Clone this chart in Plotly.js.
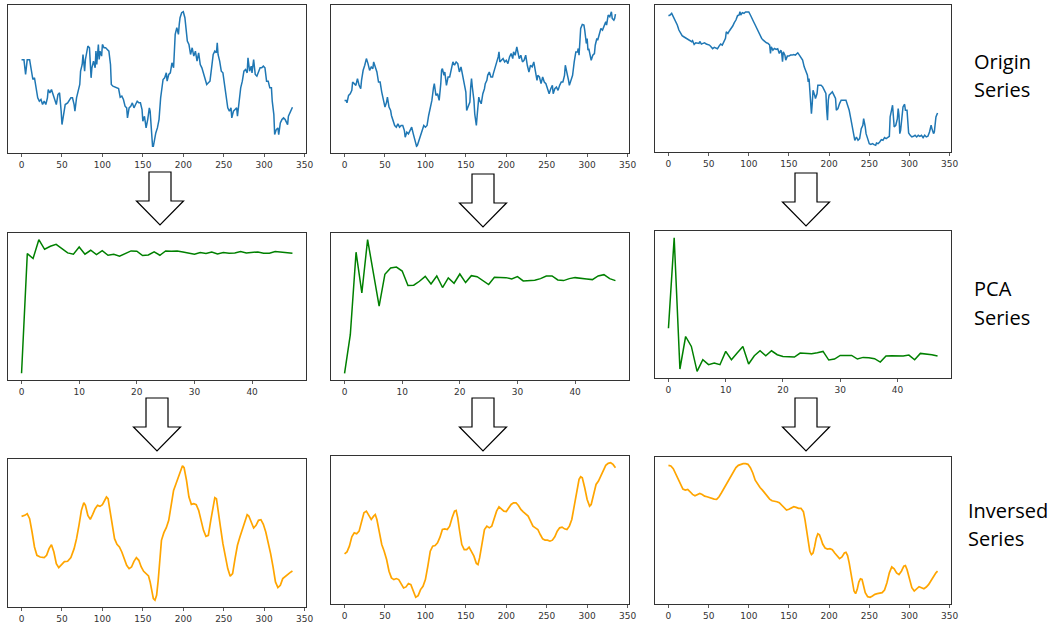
<!DOCTYPE html>
<html>
<head>
<meta charset="utf-8">
<script src="https://cdn.plot.ly/plotly-3.0.1.min.js"></script>
<style>html,body{margin:0;padding:0;background:#fff;}#chart{width:1057px;height:626px;}</style>
</head>
<body>
<div id="chart"></div>
<script>
// ---------- Origin series (blue) ----------
const origin1T = [0,3,5,7,10,12,14,16,18,20,22,24,26,28,30,32,33,35,37,39,41,43,45,47,49,50,52,54,57,59,61,63,65,66,68,70,72,73,75,76,78,79,80,82,84,85,86,87,89,91,92,93,95,96,97,99,100,102,104,106,108,110,111,113,117,120,122,124,126,128,130,131,133,135,137,139,141,143,145,147,149,150,152,154,156,158,159,160,161,162,163,164,166,168,170,172,174,175,177,179,180,182,184,186,188,189,190,192,194,195,196,198,200,202,203,205,207,209,211,213,215,217,219,221,223,225,227,229,231,233,235,237,239,241,242,243,245,247,249,251,253,255,257,259,260,262,264,266,267,269,271,273,275,277,279,280,282,284,285,287,289,291,293,295,297,299,301,303,305,307,309,310,312,313,315,317,318,320,322,324,326,328,329,330,332,333,335];
const origin1V = [284,284,240,284,284,260,225,230,200,170,160,165,150,160,150,170,195,185,195,180,160,150,180,185,130,90,120,150,155,165,170,170,150,130,170,190,210,250,270,300,250,285,300,325,320,280,230,260,280,260,310,270,330,285,310,295,330,320,320,315,310,270,210,205,202,198,172,175,165,145,140,110,140,145,155,140,150,160,155,155,135,100,115,80,105,140,130,80,50,25,25,40,65,80,105,170,200,225,230,245,220,240,245,275,260,320,360,380,360,390,410,425,428,410,390,340,330,300,320,295,310,280,305,270,260,245,225,210,215,220,260,300,310,305,335,300,280,250,245,210,170,140,130,140,110,130,135,140,115,160,200,220,250,255,245,290,250,265,245,285,240,235,250,260,260,265,260,220,220,200,200,160,120,60,75,80,60,95,105,110,105,95,90,115,125,130,142];

const origin2T = [0,2,3,5,7,9,10,12,14,15,16,18,20,21,23,25,27,29,31,33,35,36,38,40,42,44,46,48,50,52,53,55,57,58,60,62,64,66,68,70,72,74,75,77,79,81,83,85,87,89,90,92,94,96,98,100,102,104,106,108,110,111,113,115,117,118,119,120,121,123,124,126,128,130,132,134,136,138,140,142,144,146,148,150,151,153,155,156,157,158,160,161,162,163,164,166,167,169,171,173,174,176,177,179,181,183,184,186,188,190,191,192,194,196,198,200,202,204,206,208,209,211,213,214,216,218,220,222,224,226,228,230,232,234,236,238,239,241,243,245,247,249,251,253,255,257,258,260,262,264,266,268,270,272,273,275,277,278,280,282,284,286,288,289,290,291,292,294,296,297,298,299,300,301,302,304,305,307,309,310,312,313,315,317,319,321,323,324,326,328,330,331,333,334,335];
const origin2V = [160,160,153,175,180,190,215,210,205,215,225,205,195,220,250,265,285,270,250,260,255,275,260,245,215,215,185,165,140,155,170,140,130,115,100,85,80,90,80,85,85,70,50,65,60,70,80,60,40,23,25,40,50,70,85,80,85,115,135,160,198,210,175,180,160,180,210,250,255,235,245,205,230,230,250,275,265,275,270,245,260,235,215,185,130,145,155,200,225,200,160,120,90,85,115,170,160,150,180,195,210,220,235,245,230,230,240,255,270,290,305,275,280,285,275,280,270,290,300,285,305,295,320,305,285,295,275,280,295,265,245,265,260,275,240,220,235,230,210,230,215,210,195,180,195,205,180,195,200,190,205,215,215,235,265,245,220,205,220,235,275,305,305,315,295,340,375,387,385,370,340,330,345,310,315,290,280,295,300,325,345,340,355,375,370,380,395,385,415,410,425,405,400,405,418];

const origin3T = [0,2,4,5,7,9,11,13,15,17,19,21,23,25,27,29,30,32,34,36,38,39,41,43,45,47,49,51,53,55,57,59,61,63,65,67,69,71,72,74,76,78,80,82,84,86,88,89,90,92,94,96,98,100,102,104,106,108,110,112,114,116,118,120,122,124,126,127,128,130,132,134,136,138,140,141,142,143,145,146,148,150,152,154,156,158,160,161,163,165,167,169,171,173,174,175,176,177,178,179,180,182,183,185,186,188,190,192,194,196,197,198,199,200,202,204,206,208,209,211,213,215,217,219,221,223,225,227,229,231,232,234,236,238,240,242,243,245,246,248,250,252,254,256,258,259,261,263,265,267,269,271,273,275,276,278,279,281,283,285,286,287,288,289,290,292,294,295,297,298,299,301,303,305,307,309,311,313,315,317,319,321,323,325,327,328,330,331,333,335];
const origin3V = [413,415,420,415,405,398,385,370,360,353,350,347,345,342,340,335,338,327,332,330,330,336,328,330,332,328,327,325,320,314,318,315,314,322,328,325,335,345,365,360,368,374,382,392,400,413,415,425,415,422,420,424,423,424,415,402,395,385,375,365,352,345,340,335,332,330,325,300,320,310,315,312,314,300,310,300,275,305,295,280,292,292,295,295,297,295,300,302,295,285,280,260,245,235,215,225,190,135,120,150,190,175,165,180,205,205,205,200,190,180,130,100,160,175,180,185,175,165,130,135,150,160,160,160,160,145,130,105,75,55,40,50,40,45,75,85,105,80,60,45,30,28,30,27,25,32,30,35,42,40,48,45,50,52,110,130,145,80,85,105,135,115,60,70,90,140,148,130,130,90,62,55,50,52,55,50,55,52,55,48,55,50,52,65,85,75,60,65,110,122];

// ---------- PCA series (green) ----------
const pcaT = Array.from({length: 48}, (_, i) => i);
const pca1V = [13,375,360,417,388,397,403,390,377,373,395,373,385,372,384,370,373,367,375,383,382,369,371,380,370,383,382,383,380,377,373,378,375,380,374,378,376,377,381,377,378,380,376,376,381,379,378,376];
const pca2V = [13,130,380,257,418,315,217,313,332,335,323,279,280,292,307,284,308,273,302,286,314,288,309,306,294,282,304,304,303,299,306,293,293,295,300,308,308,296,294,300,303,302,299,297,308,312,300,294];
const pca3V = [150,423,27,125,95,20,55,40,45,40,80,55,75,95,42,67,82,67,82,70,65,65,63,75,73,73,76,80,54,57,68,67,68,57,62,61,58,48,66,67,66,66,69,55,74,73,70,66];

// ---------- Inversed series (orange) ----------
const inv1T = [0,4,7,10,13,16,19,23,28,31,34,37,40,43,46,50,53,57,61,65,68,71,74,77,79,82,85,88,91,94,97,100,103,105,107,109,112,115,118,121,124,127,130,133,136,139,142,145,148,151,154,157,159,161,163,165,167,169,171,173,176,179,182,185,188,191,194,197,199,201,204,207,210,213,216,219,222,225,228,231,234,237,239,241,243,246,249,252,255,258,261,264,267,270,273,276,279,281,284,287,290,293,296,299,302,305,308,311,314,317,320,323,326,329,332,335];
const inv1V = [262,265,270,255,215,170,145,140,138,145,165,177,155,120,108,117,126,127,138,165,195,235,280,303,295,265,253,268,285,295,292,297,310,320,315,285,235,195,178,170,155,135,115,105,110,127,138,130,110,97,90,83,65,35,15,10,25,70,140,190,213,228,250,295,340,360,380,405,414,408,370,320,298,300,297,280,250,220,202,205,250,300,318,315,285,230,180,140,105,82,90,135,175,200,222,250,267,263,245,227,235,250,252,238,215,185,150,110,65,48,55,75,82,87,93,98];

const inv2T = [0,3,6,9,12,15,18,21,24,27,30,33,36,38,40,43,46,49,52,55,58,61,64,67,70,73,76,79,82,85,88,91,94,97,100,103,106,109,112,115,118,121,124,127,130,133,136,138,140,142,145,148,151,154,157,160,163,165,167,170,173,176,179,182,185,188,191,194,197,200,203,206,209,212,215,218,221,224,227,230,233,236,239,242,245,248,251,254,257,260,263,266,269,272,275,278,281,284,287,290,292,294,297,300,303,305,308,311,314,317,320,323,326,329,332,335];
const inv2V = [147,153,170,198,210,207,215,245,270,275,260,250,260,265,250,210,175,155,130,95,75,70,73,70,55,45,48,58,55,35,17,22,40,50,70,110,155,170,172,180,197,220,222,220,230,255,275,277,255,220,175,160,160,167,155,140,118,115,135,180,220,230,225,230,250,275,288,282,275,274,285,295,300,300,292,280,273,267,260,245,230,225,220,205,192,188,188,185,188,198,215,225,227,222,220,230,250,290,335,370,378,375,345,310,290,295,325,355,365,380,398,412,418,420,415,405];

const inv3T = [0,3,6,9,12,15,18,21,24,27,30,33,36,39,42,45,48,51,54,57,60,63,66,69,72,75,78,81,84,87,90,93,96,99,102,105,108,111,114,117,120,123,126,129,132,135,138,141,144,147,150,153,156,159,162,165,168,170,172,174,176,178,180,182,184,186,188,190,192,195,198,201,204,207,210,213,216,219,221,223,225,227,229,231,233,235,237,239,241,243,245,248,251,254,257,260,263,266,269,272,275,278,281,284,287,290,293,295,297,300,303,306,309,312,315,318,321,324,327,330,333,335];
const inv3V = [415,413,405,390,372,355,343,340,342,335,327,323,327,330,327,322,320,317,315,313,312,320,332,345,360,370,382,395,408,415,418,420,420,418,408,392,370,358,348,340,330,320,313,308,307,305,302,295,285,280,282,287,290,288,285,285,275,250,220,185,155,145,150,170,195,208,205,192,177,165,162,163,160,150,140,133,138,150,152,142,120,90,60,35,27,40,62,72,70,50,30,18,16,20,25,27,28,30,38,60,90,108,102,90,85,95,110,112,100,72,45,35,42,48,45,42,47,55,67,80,90,95];

// ---------- labels ----------
const rowLabels = [["Origin", "Series"], ["PCA", "Series"], ["Inversed", "Series"]];
const longTicks = [0, 50, 100, 150, 200, 250, 300, 350];
const pcaTicks = [0, 10, 20, 30, 40];

// ---------- layout geometry (pixels) ----------
const W = 1057, H = 626;
const colX = [[8, 306], [331, 629], [655, 951]];
const rowY = [[[5, 153], [5, 153], [5, 152]], [[233, 380], [233, 380], [231, 378]], [[459, 607], [456, 604], [457, 604]]];
const colors = ['#1f77b4', '#008000', '#ffa500'];

const panels = [
  [[origin1T, origin1V], [origin2T, origin2V], [origin3T, origin3V]],
  [[pcaT, pca1V], [pcaT, pca2V], [pcaT, pca3V]],
  [[inv1T, inv1V], [inv2T, inv2V], [inv3T, inv3V]]
];

function padRange(arr) {
  let mn = Math.min(...arr), mx = Math.max(...arr);
  const s = mx - mn;
  return [mn - 0.05 * s, mx + 0.05 * s];
}

const traces = [];
const layout = {
  width: W, height: H,
  margin: {l: 0, r: 0, t: 0, b: 0},
  paper_bgcolor: '#fff', plot_bgcolor: '#fff',
  showlegend: false,
  shapes: [], annotations: []
};

let k = 0;
for (let r = 0; r < 3; r++) {
  for (let c = 0; c < 3; c++) {
    k++;
    const [xs, ys] = panels[r][c];
    const xn = k === 1 ? 'x' : 'x' + k;
    const yn = k === 1 ? 'y' : 'y' + k;
    traces.push({
      type: 'scatter', mode: 'lines', x: xs, y: ys,
      xaxis: xn, yaxis: yn,
      line: {color: colors[r], width: r === 2 ? 1.7 : 1.5},
      hoverinfo: 'skip'
    });
    const xr = padRange(xs);
    const yrg = padRange(ys);
    const ax = k === 1 ? 'xaxis' : 'xaxis' + k;
    const ay = k === 1 ? 'yaxis' : 'yaxis' + k;
    layout[ax] = {
      domain: [colX[c][0] / W, colX[c][1] / W],
      anchor: yn, range: xr, fixedrange: true,
      tickmode: 'array', tickvals: r === 1 ? pcaTicks : longTicks,
      ticks: 'outside', ticklen: 3, tickwidth: 0.8, tickcolor: '#333',
      showline: true, mirror: true, linecolor: '#333', linewidth: 1,
      showgrid: false, zeroline: false,
      tickfont: {family: 'DejaVu Sans', size: 9, color: '#333'}
    };
    layout[ay] = {
      domain: [1 - rowY[r][c][1] / H, 1 - rowY[r][c][0] / H],
      anchor: xn, range: yrg, fixedrange: true,
      showticklabels: false, ticks: '',
      showline: true, mirror: true, linecolor: '#333', linewidth: 1,
      showgrid: false, zeroline: false
    };
  }
}

// block arrows between rows
function arrowPath(cx, top) {
  const sw = 11, hw = 23.5, hb = top + 29, tip = top + 53;
  const pts = [[cx - sw, top], [cx + sw, top], [cx + sw, hb], [cx + hw, hb], [cx, tip], [cx - hw, hb], [cx - sw, hb]];
  return 'M' + pts.map(p => (p[0] / W).toFixed(5) + ',' + (1 - p[1] / H).toFixed(5)).join(' L') + ' Z';
}
const arrows = [[160, 172], [483, 174], [806, 173], [157, 398], [483, 398], [806, 398]];
arrows.forEach(a => {
  layout.shapes.push({
    type: 'path', xref: 'paper', yref: 'paper', path: arrowPath(a[0], a[1]),
    fillcolor: '#ffffff', line: {color: '#000', width: 1.2}, layer: 'above'
  });
});

// row labels
const labelPos = [[972, 62, 90], [972, 288, 317], [966, 510, 538]];
rowLabels.forEach((lines, i) => {
  const [lx, y1, y2] = labelPos[i];
  [y1, y2].forEach((yy, j) => {
    layout.annotations.push({
      xref: 'paper', yref: 'paper', x: lx / W, y: 1 - yy / H,
      xanchor: 'left', yanchor: 'middle', showarrow: false,
      text: lines[j], font: {family: 'Open Sans', size: 20, color: '#000'}
    });
  });
});

Plotly.newPlot('chart', traces, layout, {staticPlot: true, displayModeBar: false});
</script>
</body>
</html>
